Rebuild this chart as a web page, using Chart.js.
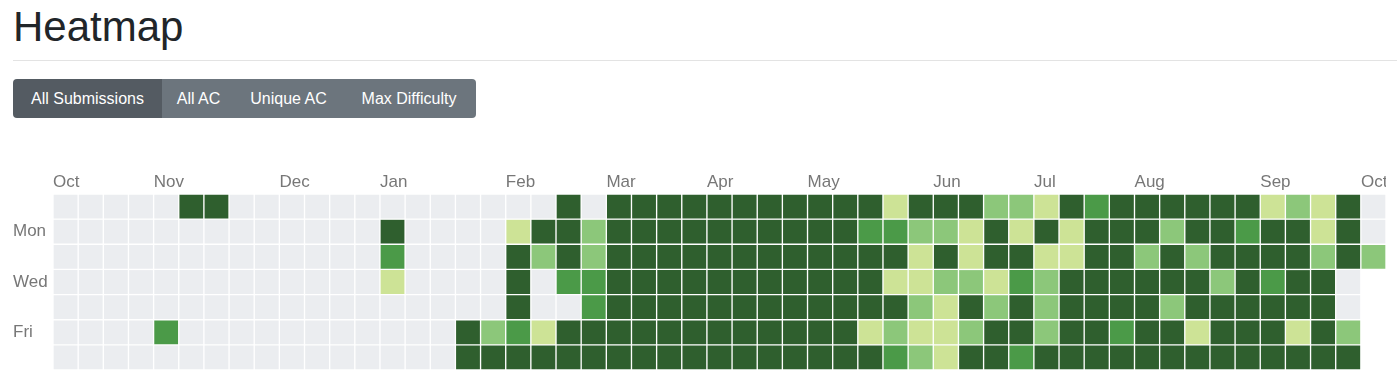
<!DOCTYPE html>
<html lang="en">
<head>
<meta charset="UTF-8">
<title>Heatmap</title>
<script src="https://cdn.jsdelivr.net/npm/chart.js@4"></script>
<style>
  body { margin: 0; background: #fff; font-family: "Helvetica Neue", Helvetica, Arial, sans-serif; color: #212529; }
  h1 { position: absolute; left: 13px; top: 6px; margin: 0; font-size: 42px; line-height: 42px; font-weight: 500; }
  hr { position: absolute; left: 13px; top: 60px; width: 1384px; margin: 0; border: 0; border-top: 1px solid #e3e3e3; }
  .btn-group { position: absolute; left: 13px; top: 79px; display: flex; border-radius: 4px; overflow: hidden; }
  .btn-group button { height: 39px; border: 0; padding: 0; color: #fff; background: #6c757d;
    font: 16px "Helvetica Neue", Helvetica, Arial, sans-serif; }
  .btn-group button.active { background: #545b62; }
  #wrap { position: absolute; left: 13px; top: 165px; width: 1373px; height: 205px; }
</style>
</head>
<body>
<h1>Heatmap</h1>
<hr>
<div class="btn-group">
  <button class="active" style="width:149px">All Submissions</button>
  <button style="width:73px">All AC</button>
  <button style="width:107px">Unique AC</button>
  <button style="width:134px">Max Difficulty</button>
</div>
<div id="wrap"><canvas id="heatmap"></canvas></div>
<script>
// weekday rows, one entry per week (0 = nothing, 4 = most); null = day not reached yet
const sun = [0,0,0,0,0,4,4,0,0,0, 0,0,0,0,0,0,0,0,0,0, 4,0,4,4,4,4,4,4,4,4, 4,4,4,1,4,4,4,2,2,1, 4,3,4,4,4,4,4,4,1,2, 1,4,0]
const mon = [0,0,0,0,0,0,0,0,0,0, 0,0,0,4,0,0,0,0,1,4, 4,2,4,4,4,4,4,4,4,4, 4,4,3,3,2,2,1,4,1,4, 1,4,4,4,2,4,4,3,4,4, 1,4,0]
const tue = [0,0,0,0,0,0,0,0,0,0, 0,0,0,3,0,0,0,0,4,2, 4,2,4,4,4,4,4,4,4,4, 4,4,4,4,1,4,1,4,4,1, 1,4,4,2,4,2,4,4,4,4, 2,4,2]
const wed = [0,0,0,0,0,0,0,0,0,0, 0,0,0,1,0,0,0,0,4,0, 3,3,4,4,4,4,4,4,4,4, 4,4,4,1,1,2,2,1,3,2, 4,4,4,4,4,4,2,4,3,4, 4,0,null]
const thu = [0,0,0,0,0,0,0,0,0,0, 0,0,0,0,0,0,0,0,4,0, 0,3,4,4,4,4,4,4,4,4, 4,4,4,4,2,1,4,2,4,2, 4,4,4,4,2,4,4,4,4,4, 4,0,null]
const fri = [0,0,0,0,3,0,0,0,0,0, 0,0,0,0,0,0,4,2,3,1, 4,4,4,4,4,4,4,4,4,4, 4,4,1,2,1,1,2,4,4,2, 4,4,3,4,4,1,4,4,4,1, 4,2,null]
const sat = [0,0,0,0,0,0,0,0,0,0, 0,0,0,0,0,0,4,4,4,4, 4,4,4,4,4,4,4,4,4,4, 4,4,4,3,2,1,4,4,3,4, 4,4,4,4,4,4,4,4,4,4, 4,4,null]

const dayNames = ["Sun", "Mon", "Tue", "Wed", "Thu", "Fri", "Sat"]
const dayTickLabels = ["", "Mon", "", "Wed", "", "Fri", ""]
// week index -> month label shown above it
const monthWeeks = [0, 4, 9, 13, 18, 22, 26, 30, 35, 39, 43, 48, 52]
const monthNames = ["Oct", "Nov", "Dec", "Jan", "Feb", "Mar", "Apr", "May", "Jun", "Jul", "Aug", "Sep", "Oct"]

const levelColors = ["#ebedf0", "#cde396", "#8cc77a", "#4b9a48", "#2f5f2e"]
const labelColor = "#777"
const fontFamily = '"Helvetica Neue", Helvetica, Arial, sans-serif'

const rows = [sun, mon, tue, wed, thu, fri, sat]
const weeks = sun.map((_, i) => String(i))

const datasets = rows.map((row, d) => ({
  label: dayNames[d],
  data: row.map(v => v === null ? null : [d, d + 1]),
  backgroundColor: row.map(v => levelColors[v ?? 0]),
  borderColor: "#fff",
  borderWidth: 1,
  borderSkipped: false,
  barPercentage: 1,
  categoryPercentage: 1,
  grouped: false,
}))

new Chart(document.getElementById("heatmap"), {
  type: "bar",
  data: { labels: weeks, datasets },
  options: {
    responsive: true,
    maintainAspectRatio: false,
    animation: false,
    events: [],
    layout: { padding: 0 },
    plugins: { legend: { display: false }, tooltip: { enabled: false } },
    scales: {
      x: {
        position: "top",
        stacked: true,
        offset: true,
        grid: { display: false, drawTicks: false },
        border: { display: false },
        ticks: {
          autoSkip: false,
          maxRotation: 0,
          align: "start",
          labelOffset: -12.5,
          padding: 1,
          color: labelColor,
          font: { size: 17, family: fontFamily },
          callback: (v, i) => {
            const k = monthWeeks.indexOf(i)
            return k < 0 ? "" : monthNames[k]
          },
        },
        afterFit: s => { s.height = 29; s.paddingLeft = 0; s.paddingRight = 0 },
      },
      y: {
        min: 0,
        max: 7,
        reverse: true,
        grid: { display: false, drawTicks: false },
        border: { display: false },
        afterBuildTicks: s => { s.ticks = [1.5, 3.5, 5.5].map(value => ({ value })) },
        ticks: {
          crossAlign: "far",
          padding: 0,
          color: labelColor,
          font: { size: 17, family: fontFamily },
          callback: v => dayTickLabels[Math.floor(v)],
        },
        afterFit: s => { s.width = 40; s.paddingTop = 0; s.paddingBottom = 0 },
      },
    },
  },
})
</script>
</body>
</html>
